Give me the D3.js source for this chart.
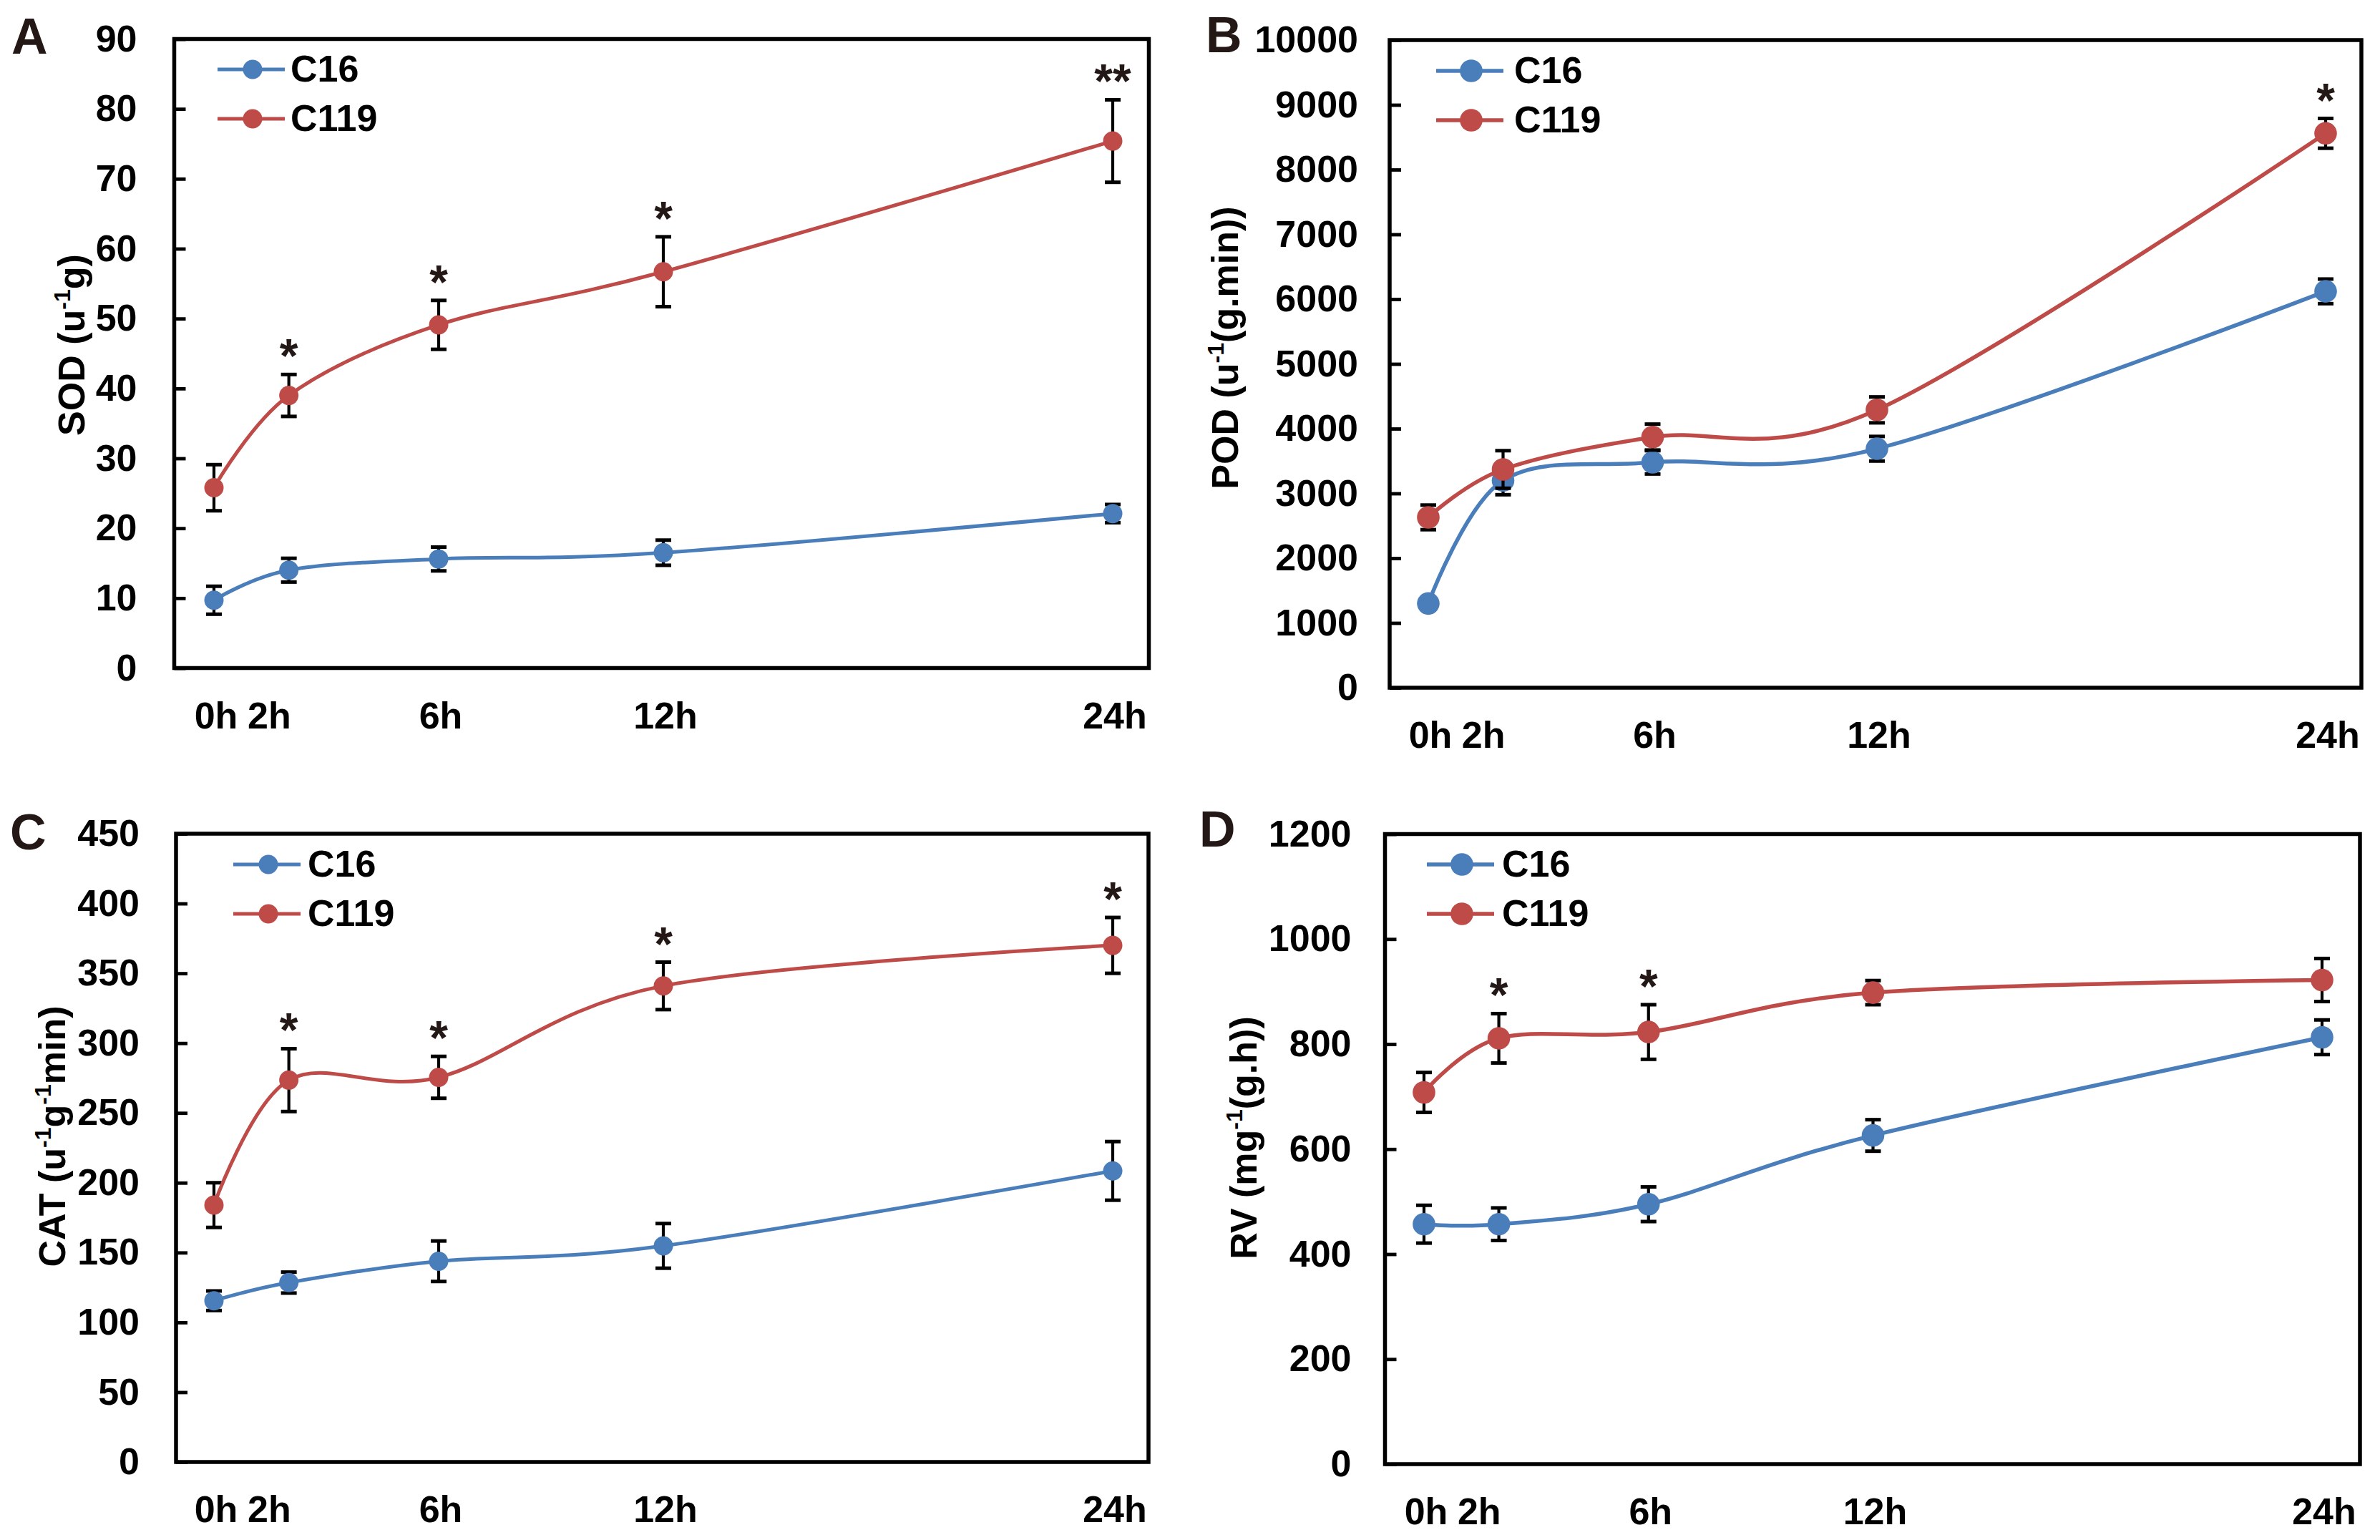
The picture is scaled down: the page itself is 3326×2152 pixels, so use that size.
<!DOCTYPE html>
<html>
<head>
<meta charset="utf-8">
<script src="https://cdn.jsdelivr.net/npm/d3@7"></script>
<style>
  html, body { margin: 0; padding: 0; background: #ffffff; }
  svg { display: block; }
  text { font-family: "Liberation Sans", Arial, sans-serif; font-weight: bold; fill: #000; }
</style>
</head>
<body>
<svg id="chart" width="3326" height="2152"></svg>
<script>
// ---------------- data ----------------
const hours = [0, 2, 6, 12, 24];
const hourLabels = ["0h", "2h", "6h", "12h", "24h"];
const seriesNames = ["C16", "C119"];

// A: SOD
const sodC16 = [9.7, 14.0, 15.6, 16.5, 22.1];
const sodC16Err = [2.0, 1.7, 1.7, 1.8, 1.3];
const sodC119 = [25.8, 39.0, 49.1, 56.7, 75.4];
const sodC119Err = [3.3, 3.0, 3.5, 5.0, 5.9];
const sodSig = ["", "*", "*", "*", "**"];
const sodTicks = [0, 10, 20, 30, 40, 50, 60, 70, 80, 90];

// B: POD
const podC16 = [1300, 3200, 3480, 3690, 6120];
const podC16Err = [50, 220, 180, 190, 190];
const podC119 = [2630, 3370, 3870, 4290, 8560];
const podC119Err = [190, 290, 200, 200, 230];
const podSig = ["", "", "", "", "*"];
const podTicks = [0, 1000, 2000, 3000, 4000, 5000, 6000, 7000, 8000, 9000, 10000];

// C: CAT
const catC16 = [115.5, 128.5, 143.8, 154.8, 208.5];
const catC16Err = [7, 7.5, 14.5, 16, 21];
const catC119 = [184, 273.5, 275.5, 341, 370];
const catC119Err = [16, 22.5, 15, 17, 20];
const catSig = ["", "*", "*", "*", "*"];
const catTicks = [0, 50, 100, 150, 200, 250, 300, 350, 400, 450];

// D: RV
const rvC16 = [457, 457, 495, 626, 813];
const rvC16Err = [36, 31, 33, 30, 33];
const rvC119 = [708, 811, 823, 898, 922];
const rvC119Err = [38, 47, 52, 23, 41];
const rvSig = ["", "*", "*", "", ""];
const rvTicks = [0, 200, 400, 600, 800, 1000, 1200];

const colors = ["#4A7EBB", "#BE4B48"];

// ---------------- layout (drawing only) ----------------
const panels = [
  { letter: "A", lx: 16, ly: 75,
    box: [243.5, 1605.5, 54.5, 933.5], xr: [299, 1555], pad: 52,
    ticks: sodTicks, s1: sodC16, e1: sodC16Err, s2: sodC119, e2: sodC119Err, sig: sodSig,
    title: ["SOD (u", "-1", "g)"], tx: 118, ty: 482, r: 13.5, lw: 5,
    legX: 304, legY: 97, legText: 406 },
  { letter: "B", lx: 1685, ly: 73,
    box: [1942, 3300, 56, 961], xr: [1996, 3250], pad: 44,
    ticks: podTicks, s1: podC16, e1: podC16Err, s2: podC119, e2: podC119Err, sig: podSig,
    title: ["POD (u", "-1", "(g.min))"], tx: 1730, ty: 486, r: 15.8, lw: 5.5,
    legX: 2007, legY: 99, legText: 2116 },
  { letter: "C", lx: 14, ly: 1187,
    box: [246, 1605, 1165, 2043], xr: [299, 1555], pad: 51,
    ticks: catTicks, s1: catC16, e1: catC16Err, s2: catC119, e2: catC119Err, sig: catSig,
    title: ["CAT (u", "-1", "g", "-1", "min)"], tx: 91, ty: 1588, r: 13.5, lw: 5,
    legX: 326, legY: 1208, legText: 430 },
  { letter: "D", lx: 1676, ly: 1183,
    box: [1935.5, 3298, 1165.5, 2046], xr: [1990, 3245], pad: 47,
    ticks: rvTicks, s1: rvC16, e1: rvC16Err, s2: rvC119, e2: rvC119Err, sig: rvSig,
    title: ["RV (mg", "-1", "(g.h))"], tx: 1756, ty: 1590, r: 15.8, lw: 5.5,
    legX: 1994, legY: 1208, legText: 2099 }
];

const svg = d3.select("#chart");
svg.append("rect").attr("width", 3326).attr("height", 2152).attr("fill", "#fff");

panels.forEach(p => {
  const [L, R, T, B] = p.box;
  const g = svg.append("g");
  const x = d3.scaleLinear().domain([0, 24]).range(p.xr);
  const y = d3.scaleLinear().domain([p.ticks[0], p.ticks[p.ticks.length - 1]]).range([B, T]);

  // panel letter
  g.append("text").attr("x", p.lx).attr("y", p.ly)
    .attr("font-size", 70).style("fill", "#231815").text(p.letter);

  // y axis (ticks inward)
  const ax = g.append("g").attr("transform", `translate(${L},0)`)
    .call(d3.axisLeft(y).tickValues(p.ticks).tickSize(-16).tickPadding(p.pad).tickFormat(d3.format("d")));
  ax.select(".domain").remove();
  ax.selectAll(".tick line").attr("stroke", "#000").attr("stroke-width", 4.8);
  ax.selectAll(".tick text").attr("font-size", 52).attr("font-family", null).attr("fill", "#000");

  // box
  g.append("rect").attr("x", L).attr("y", T).attr("width", R - L).attr("height", B - T)
    .attr("fill", "none").attr("stroke", "#000").attr("stroke-width", 5.5);

  // x labels
  hourLabels.forEach((lab, i) => {
    const anchorEnd = i === 1;
    g.append("text")
      .attr("x", x(hours[i]) + 3)
      .attr("y", B + 84)
      .attr("font-size", 52)
      .attr("text-anchor", anchorEnd ? "end" : "middle")
      .text(lab);
  });

  // y title
  const tt = g.append("text")
    .attr("transform", `translate(${p.tx},${p.ty}) rotate(-90)`)
    .attr("text-anchor", "middle").attr("font-size", 52);
  let up = false;
  p.title.forEach((part, i) => {
    const isSup = i % 2 === 1;
    const ts = tt.append("tspan").text(part);
    if (isSup) { ts.attr("font-size", 32).attr("dy", -20); up = true; }
    else if (up) { ts.attr("dy", 20); up = false; }
  });

  const series = [
    { v: p.s1, e: p.e1 },
    { v: p.s2, e: p.e2 }
  ];
  const line = d3.line().x(d => x(d.h)).y(d => y(d.v)).curve(d3.curveCardinal.tension(0));
  const cap = 11;

  series.forEach((s, si) => {
    const pts = hours.map((h, i) => ({ h, v: s.v[i], e: s.e[i] }));
    const sg = g.append("g");
    // error bars
    pts.forEach(d => {
      const x0 = x(d.h), yt = y(d.v + d.e), yb = y(d.v - d.e);
      sg.append("line").attr("x1", x0).attr("x2", x0).attr("y1", yt).attr("y2", yb)
        .attr("stroke", "#000").attr("stroke-width", 4.2);
      [yt, yb].forEach(yy => sg.append("line").attr("x1", x0 - cap).attr("x2", x0 + cap)
        .attr("y1", yy).attr("y2", yy).attr("stroke", "#000").attr("stroke-width", 5));
    });
    sg.append("path").datum(pts).attr("d", line).attr("fill", "none")
      .attr("stroke", colors[si]).attr("stroke-width", p.lw);
    sg.selectAll("circle").data(pts).enter().append("circle")
      .attr("cx", d => x(d.h)).attr("cy", d => y(d.v)).attr("r", p.r).attr("fill", colors[si]);
  });

  // significance stars (above C119 error bars)
  p.sig.forEach((sym, i) => {
    if (!sym) return;
    g.append("text").attr("x", x(hours[i])).attr("y", y(p.s2[i] + p.e2[i]) - 3)
      .attr("text-anchor", "middle").attr("font-size", 66).style("fill", "#231815").text(sym);
  });

  // legend
  seriesNames.forEach((name, i) => {
    const ly = p.legY + i * 69;
    g.append("line").attr("x1", p.legX).attr("x2", p.legX + 94).attr("y1", ly).attr("y2", ly)
      .attr("stroke", colors[i]).attr("stroke-width", p.lw);
    g.append("circle").attr("cx", p.legX + 49).attr("cy", ly).attr("r", p.r).attr("fill", colors[i]);
    g.append("text").attr("x", p.legText).attr("y", ly + 17).attr("font-size", 52).text(name);
  });
});
</script>
</body>
</html>
